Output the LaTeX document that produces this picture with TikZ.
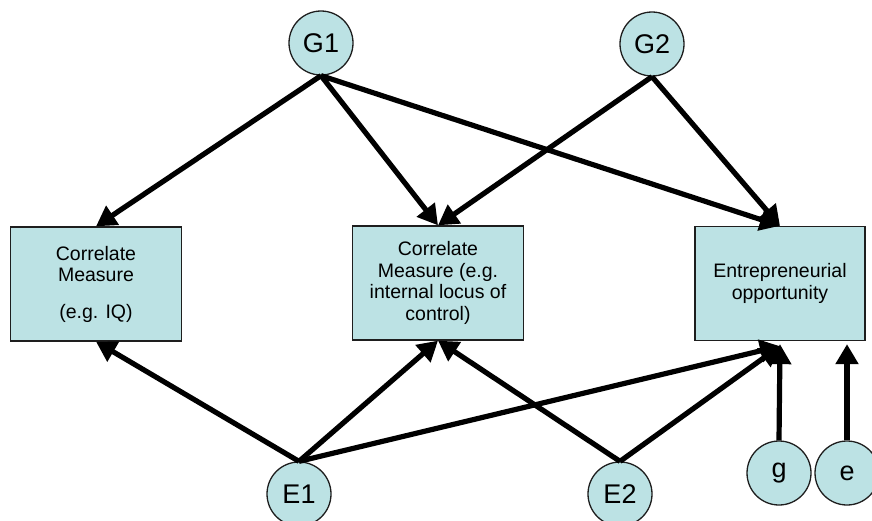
\documentclass[tikz,border=0pt]{standalone}
\usepackage{fontspec}
\setmainfont{Liberation Sans}
\usetikzlibrary{arrows.meta}
\definecolor{boxfill}{RGB}{188,226,228}
\definecolor{edge}{RGB}{30,30,30}
\begin{document}
\begin{tikzpicture}[x=1pt,y=-1pt,
  var/.style={circle,draw=edge,line width=1.3pt,fill=boxfill,minimum size=64pt,inner sep=0pt,
    font=\fontsize{27}{28}\selectfont},
  measbox/.style={rectangle,draw=edge,line width=1.3pt,fill=boxfill,minimum width=171pt,
    minimum height=114pt,inner sep=0pt,align=center,font=\fontsize{19.5}{21.5}\selectfont},
  arr/.style={line width=5.2pt,-{Triangle[length=20pt,width=22pt]}}]
\useasboundingbox (0,0) rectangle (872,520);
\clip (0,0) rectangle (872,520);
\node[var] (G1) at (321,43) {G1};
\node[var] (G2) at (652,44) {G2};
\node[var] (E1) at (299,494) {E1};
\node[var] (E2) at (620,494) {E2};
\node[var] (g) at (779,473) {g};
\node[var] (e) at (847,473) {e};
\node[measbox] (B1) at (96,284) {Correlate\\Measure\\[15pt](e.g. IQ)};
\node[measbox] (B2) at (438,283) {Correlate\\Measure (e.g.\\internal locus of\\control)};
\node[measbox,minimum width=170pt] (B3) at (780,283.5) {Entrepreneurial\\opportunity};
\draw[arr] (G1.south) -- (B1.north);
\draw[arr] (G1.south) -- (B2.north);
\draw[arr] (G1.south) -- (B3.north);
\draw[arr] (G2.south) -- (B2.north);
\draw[arr] (G2.south) -- (B3.north);
\draw[arr] (E1.north) -- (B1.south);
\draw[arr] (E1.north) -- (B2.south);
\draw[arr] (E1.north) -- ([yshift=-5pt]B3.south);
\draw[arr] (E2.north) -- (B2.south);
\draw[arr] (E2.north) -- ([yshift=-5pt]B3.south);
\draw[arr] (g.north) -- ([yshift=-3pt]B3.south);
\draw[arr] (e.north) -- ([yshift=-3pt]e.north |- B3.south);
\end{tikzpicture}
\end{document}
